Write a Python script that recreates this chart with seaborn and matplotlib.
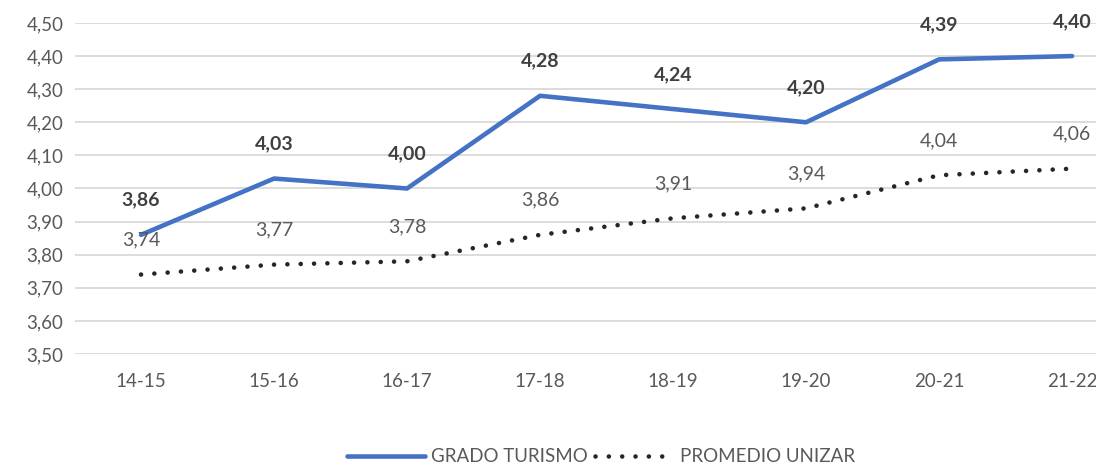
import pandas as pd
import matplotlib.pyplot as plt
import seaborn as sns
from matplotlib.lines import Line2D

OUT_PATH = "out.png"

CURSOS = ["14-15", "15-16", "16-17", "17-18", "18-19", "19-20", "20-21", "21-22"]
GRADO_TURISMO = [3.86, 4.03, 4.00, 4.28, 4.24, 4.20, 4.39, 4.40]
PROMEDIO_UNIZAR = [3.74, 3.77, 3.78, 3.86, 3.91, 3.94, 4.04, 4.06]
Y_TICKS = [3.5, 3.6, 3.7, 3.8, 3.9, 4.0, 4.1, 4.2, 4.3, 4.4, 4.5]

BLUE = "#4472C4"
DOTS = "#262626"
TEXT = "#595959"
DOT_DASH = (0.01, 2.9)


def fmt(v):
    return f"{v:.2f}".replace(".", ",")


def main():
    df = pd.DataFrame({
        "curso": CURSOS * 2,
        "valor": GRADO_TURISMO + PROMEDIO_UNIZAR,
        "serie": ["GRADO TURISMO"] * len(CURSOS) + ["PROMEDIO UNIZAR"] * len(CURSOS),
    })

    sns.set_style("white")
    plt.rcParams["font.family"] = ["Lato", "DejaVu Sans"]

    fig = plt.figure(figsize=(10.96, 4.68), dpi=100)
    ax = fig.add_axes([0.068, 0.2436, 0.932, 0.7073])

    sns.lineplot(
        data=df, x="curso", y="valor", hue="serie", style="serie",
        palette={"GRADO TURISMO": BLUE, "PROMEDIO UNIZAR": DOTS},
        dashes={"GRADO TURISMO": "", "PROMEDIO UNIZAR": DOT_DASH},
        sort=False, ax=ax, legend=False, linewidth=3.3,
    )
    lines = ax.get_lines()
    lines[0].set_solid_capstyle("round")
    lines[1].set_dash_capstyle("round")

    for i, (g, p) in enumerate(zip(GRADO_TURISMO, PROMEDIO_UNIZAR)):
        ax.annotate(fmt(g), (i, g), xytext=(0, 25), textcoords="offset points",
                    ha="center", va="center", fontsize=14, fontweight="bold",
                    color="#404040")
        ax.annotate(fmt(p), (i, p), xytext=(0, 25), textcoords="offset points",
                    ha="center", va="center", fontsize=14, color=TEXT)

    ax.set_xlim(-0.5, 7.18)
    ax.set_ylim(3.5, 4.5)
    ax.set_yticks(Y_TICKS)
    ax.set_yticklabels([fmt(v) for v in Y_TICKS])
    ax.set_xlabel("")
    ax.set_ylabel("")
    ax.grid(axis="y", color="#D9D9D9", linewidth=1.3)
    ax.set_axisbelow(True)
    for s in ax.spines.values():
        s.set_visible(False)
    ax.tick_params(axis="both", length=0, labelsize=13.5, labelcolor=TEXT)
    ax.tick_params(axis="x", pad=14)
    ax.tick_params(axis="y", pad=8)

    handles = [
        Line2D([], [], color=BLUE, linewidth=3.3, solid_capstyle="round"),
        Line2D([], [], color=DOTS, linewidth=3.3, dashes=DOT_DASH,
               dash_capstyle="round"),
    ]
    leg = ax.legend(handles, ["GRADO TURISMO", "PROMEDIO UNIZAR"], loc="center",
                    bbox_to_anchor=(0.515, -0.31), ncol=2, frameon=False,
                    fontsize=13.5, handlelength=4.2, handletextpad=0.3,
                    columnspacing=0.4)
    for t in leg.get_texts():
        t.set_color(TEXT)

    fig.savefig(OUT_PATH, dpi=100)
    plt.close(fig)


if __name__ == "__main__":
    main()
